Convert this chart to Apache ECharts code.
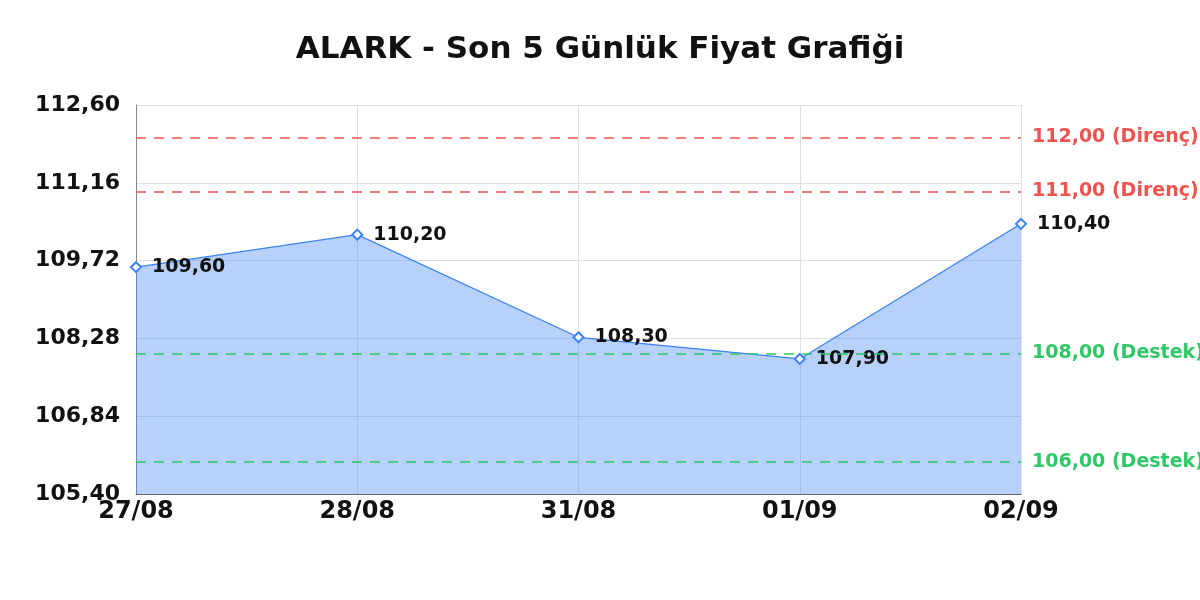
<!DOCTYPE html>
<html>
<head>
<meta charset="utf-8">
<script src="https://cdn.jsdelivr.net/npm/echarts@6/dist/echarts.min.js"></script>
<style>html,body{margin:0;padding:0;background:#fff}#c{width:1200px;height:600px}</style>
</head>
<body>
<div id="c"></div>
<script>
const titleText = 'ALARK - Son 5 Günlük Fiyat Grafiği';
const categories = ['27/08', '28/08', '31/08', '01/09', '02/09'];
const prices = [109.60, 110.20, 108.30, 107.90, 110.40];
const yTicks = [105.40, 106.84, 108.28, 109.72, 111.16, 112.60];
const resistance = [112.00, 111.00];
const support = [108.00, 106.00];

const fmt = v => v.toFixed(2).replace('.', ',');
const FONT = '"DejaVu Sans"';

const chart = echarts.init(document.getElementById('c'));
const markData = [];
resistance.forEach(v => markData.push({
  yAxis: v,
  lineStyle: { color: '#ef5350', type: [10, 8], width: 1.5 },
  label: { color: '#ef5350', formatter: fmt(v) + ' (Direnç)' }
}));
support.forEach(v => markData.push({
  yAxis: v,
  lineStyle: { color: '#2ec866', type: [10, 8], width: 1.5 },
  label: { color: '#2ec866', formatter: fmt(v) + ' (Destek)' }
}));

chart.setOption({
  animation: false,
  textStyle: { fontFamily: FONT },
  title: {
    text: titleText, left: 'center', top: 29,
    textStyle: { fontFamily: FONT, fontWeight: 'bold', fontSize: 31, color: '#111' }
  },
  grid: { left: 136, right: 179, top: 105, bottom: 106, containLabel: false },
  xAxis: {
    type: 'category', data: categories, boundaryGap: false,
    axisLine: { lineStyle: { color: '#666', width: 1 } },
    axisTick: { show: false },
    axisLabel: { fontFamily: FONT, fontWeight: 'bold', fontSize: 24, color: '#111', margin: 6 },
    splitLine: { show: true, lineStyle: { color: '#e0e0e0' } }
  },
  yAxis: {
    type: 'value', min: yTicks[0], max: yTicks[yTicks.length - 1],
    axisLine: { show: true, lineStyle: { color: '#888' } },
    axisTick: { show: false, customValues: yTicks },
    axisLabel: {
      customValues: yTicks,
      fontFamily: FONT, fontWeight: 'bold', fontSize: 22, color: '#111', margin: 16,
      formatter: v => fmt(v)
    },
    splitLine: { show: true, lineStyle: { color: '#e0e0e0' } }
  },
  series: [{
    type: 'line', data: prices,
    symbol: 'diamond', symbolSize: 10, showAllSymbol: true,
    itemStyle: { color: '#fff', borderColor: '#3b82f6', borderWidth: 2 },
    lineStyle: { color: '#3b82f6', width: 1.2 },
    areaStyle: { color: 'rgba(59,130,246,0.37)', opacity: 1 },
    label: {
      show: true, position: 'right', distance: 10,
      fontFamily: FONT, fontWeight: 'bold', fontSize: 19, color: '#111',
      formatter: p => fmt(p.value)
    },
    markLine: {
      silent: true, symbol: 'none',
      label: { position: 'end', distance: 11, fontFamily: FONT, fontWeight: 'bold', fontSize: 19 },
      data: markData
    }
  }]
});
</script>
</body>
</html>
